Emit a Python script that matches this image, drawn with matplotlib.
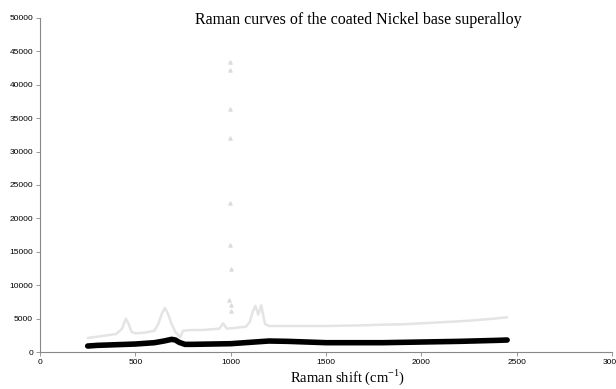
import matplotlib
matplotlib.use("Agg")
import matplotlib.pyplot as plt

plt.rcParams["mathtext.fontset"] = "custom"
plt.rcParams["mathtext.rm"] = "Liberation Serif"

# grey series (coated, upper curve) - baseline with peaks
grey_x = [250, 300, 350, 400, 430, 450, 465, 480, 500, 550, 600, 620, 640, 655, 670, 690,
          710, 735, 750, 800, 850, 900, 940, 960, 980, 1020, 1050, 1080, 1100, 1115,
          1130, 1145, 1160, 1180, 1200, 1300, 1400, 1500, 1600, 1700, 1800, 1900,
          2000, 2100, 2200, 2300, 2400, 2450]
grey_y = [2100, 2300, 2500, 2700, 3500, 5000, 4200, 3000, 2800, 2900, 3200, 4200, 5800, 6600,
          5800, 4200, 3000, 2200, 3200, 3300, 3300, 3400, 3500, 4300, 3500, 3600, 3700, 3800,
          4500, 6000, 6900, 5600, 7000, 4200, 3900, 3900, 3900, 3900, 3950, 4000, 4100, 4150,
          4300, 4450, 4600, 4800, 5050, 5200]

# isolated spike points near 1000 cm-1
spike_x = [995, 998, 996, 994, 997, 995, 999, 993, 1001, 1003]
spike_y = [43400, 42200, 36400, 32000, 22300, 16000, 12400, 7800, 7000, 6200]

# black series (lower curve)
black_x = [250, 300, 400, 500, 550, 600, 650, 690, 710, 730, 760, 800, 900, 1000, 1100,
           1200, 1300, 1400, 1500, 1600, 1800, 2000, 2200, 2400, 2450]
black_y = [900, 1000, 1100, 1200, 1300, 1400, 1650, 1900, 1800, 1450, 1150, 1150, 1200, 1250,
           1450, 1650, 1600, 1500, 1400, 1400, 1400, 1500, 1600, 1750, 1800]

fig = plt.figure(figsize=(6.16, 3.89), dpi=100)
ax = fig.add_axes([0.065, 0.095, 0.9285, 0.859])

ax.plot(grey_x, grey_y, color="#e4e4e4", lw=1.8, solid_capstyle="round", zorder=2)
ax.scatter(spike_x, spike_y, s=5, color="#dcdcdc", marker="^", zorder=2)
ax.plot(black_x, black_y, color="black", lw=4, solid_capstyle="round", zorder=3)

ax.set_xlim(0, 3000)
ax.set_ylim(0, 50000)
ax.set_xticks(range(0, 3001, 500))
ax.set_yticks(range(0, 50001, 5000))
for s in ["top", "right"]:
    ax.spines[s].set_visible(False)
for s in ["left", "bottom"]:
    ax.spines[s].set_color("#888888")
    ax.spines[s].set_linewidth(0.8)
ax.tick_params(labelsize=6, length=3, width=0.6, color="#888888", pad=2)
for lab in ax.get_xticklabels() + ax.get_yticklabels():
    lab.set_family("Liberation Sans")

fig.text(358 / 616, 1 - 20 / 389, "Raman curves of the coated Nickel base superalloy",
         ha="center", va="center", family="Liberation Serif", fontsize=11.5)
fig.text(348 / 616, 1 - 377 / 389, "Raman shift (cm$^{-1}$)", ha="center", va="center",
         family="Liberation Serif", fontsize=10.5)

fig.savefig("out.png", dpi=100)
